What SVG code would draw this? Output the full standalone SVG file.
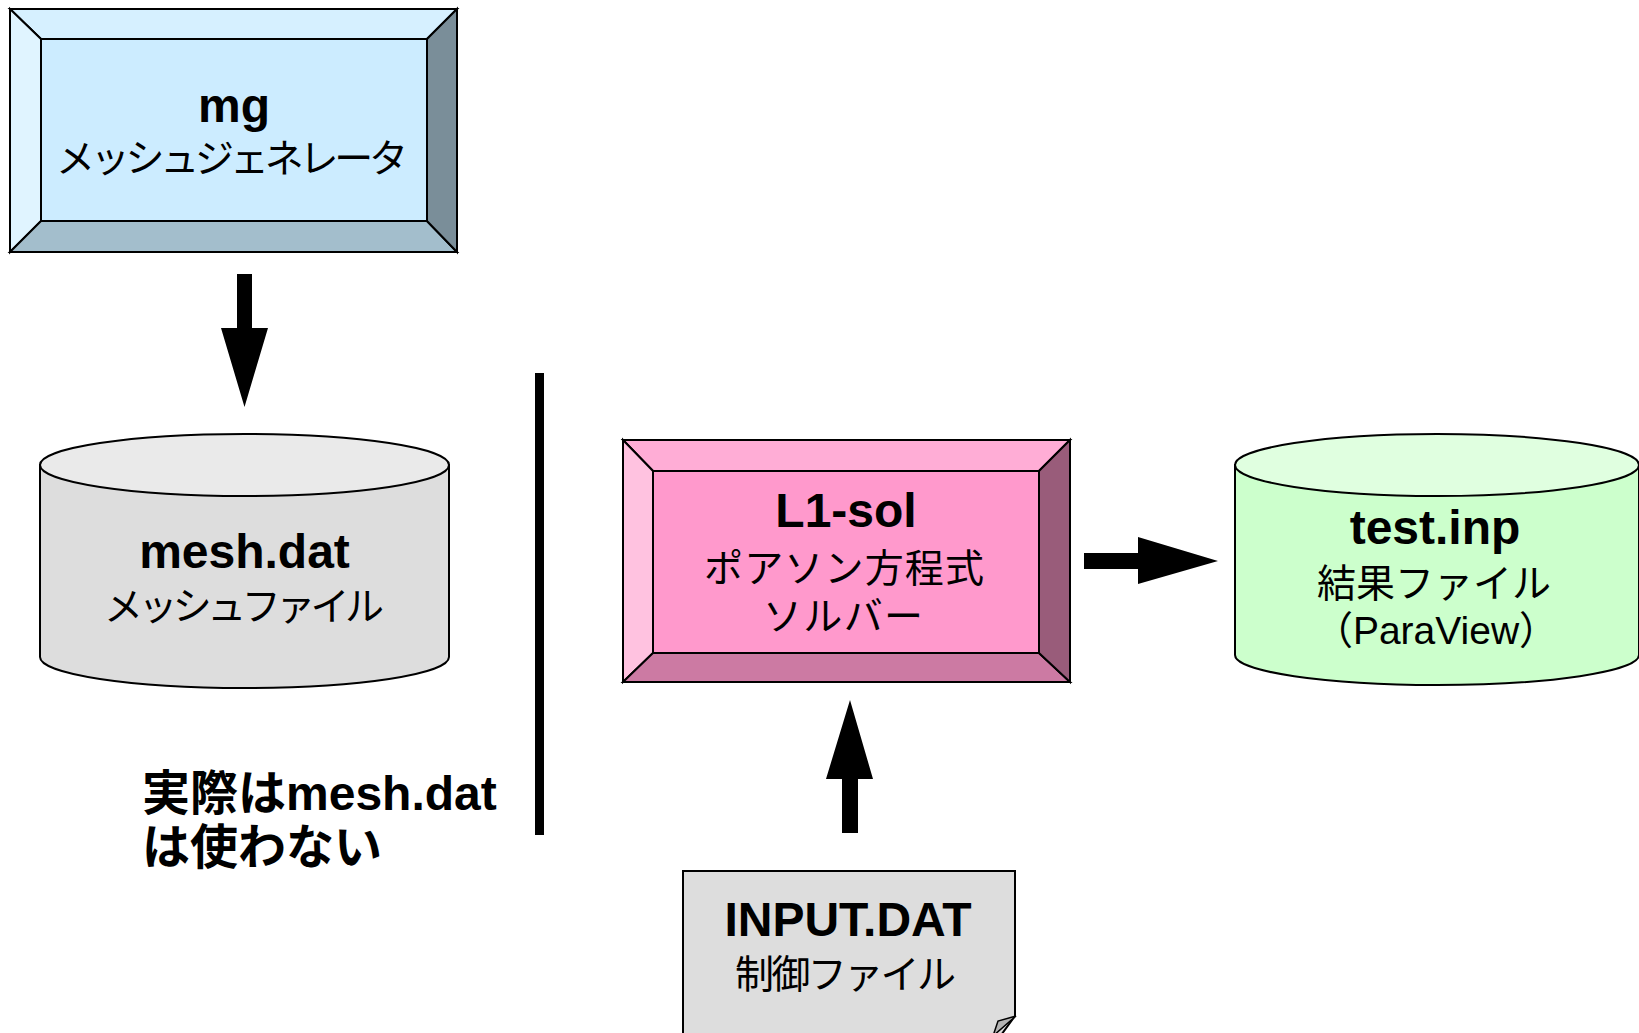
<svg xmlns="http://www.w3.org/2000/svg" width="1639" height="1033" viewBox="0 0 1639 1033">
<style>
.ln{stroke:#000;stroke-width:2;stroke-linejoin:miter}
.hd{font-family:"Liberation Sans","Noto Sans CJK JP",sans-serif;font-weight:bold;font-size:48px;fill:#000;text-anchor:middle}
.jp{font-family:"Noto Sans CJK JP","Liberation Sans",sans-serif;font-size:39px;font-weight:bold;fill:#000}
.j{font-family:"Noto Sans CJK JP","Liberation Sans",sans-serif;font-size:39px;font-weight:normal}
.note{font-family:"Liberation Sans","Noto Sans CJK JP",sans-serif;font-weight:bold;font-size:48px;fill:#000}
.arr{fill:#000;stroke:none}
</style>
<rect width="1639" height="1033" fill="#fff"/>

<g id="mg">
  <polygon class="ln" fill="#D6F0FF" points="10,9 457,9 427,39 41,39"/>
  <polygon class="ln" fill="#E0F4FF" points="10,9 41,39 41,221 10,252"/>
  <polygon class="ln" fill="#A3BECC" points="10,252 41,221 427,221 457,252"/>
  <polygon class="ln" fill="#7A8E99" points="457,9 457,252 427,221 427,39"/>
  <rect class="ln" fill="#CCECFF" x="41" y="39" width="386" height="182"/>
  <text class="hd" x="234" y="122">mg<tspan class="j" x="56" y="172" text-anchor="start" textLength="352" lengthAdjust="spacing">メッシュジェネレータ</tspan></text>
</g>

<g id="mesh">
  <path class="ln" fill="#DDDDDD" d="M40,465 L40,657 A204.5,31 0 0 0 449,657 L449,465 Z"/>
  <ellipse class="ln" fill="#EAEAEA" cx="244.5" cy="465" rx="204.5" ry="31"/>
  <text class="hd" x="244.5" y="568">mesh.dat<tspan class="j" x="104" y="620" text-anchor="start" textLength="280" lengthAdjust="spacing">メッシュファイル</tspan></text>
</g>

<g id="note">
  <text class="note" x="142" y="810">実際はmesh.dat<tspan x="142" y="864">は使わない</tspan></text>
</g>

<g id="divider">
  <rect x="535" y="373" width="9" height="462" fill="#000"/>
</g>

<g id="l1sol">
  <polygon class="ln" fill="#FFADD6" points="623,440 1070,440 1039,471 653,471"/>
  <polygon class="ln" fill="#FFC2E0" points="623,440 653,471 653,653 623,682"/>
  <polygon class="ln" fill="#CC7AA3" points="623,682 653,653 1039,653 1070,682"/>
  <polygon class="ln" fill="#995C7A" points="1070,440 1070,682 1039,653 1039,471"/>
  <rect class="ln" fill="#FF99CC" x="653" y="471" width="386" height="182"/>
  <text class="hd" x="846" y="527">L1-sol<tspan class="j" x="704" y="582" text-anchor="start" textLength="280" lengthAdjust="spacing">ポアソン方程式</tspan><tspan class="j" x="763" y="630" text-anchor="start" textLength="160" lengthAdjust="spacing">ソルバー</tspan></text>
</g>

<g id="testinp">
  <path class="ln" fill="#CCFFCC" d="M1235,465 L1235,655 A202,30 0 0 0 1639,655 L1639,465 Z"/>
  <ellipse class="ln" fill="#E0FFE0" cx="1437" cy="465" rx="202" ry="31"/>
  <text class="hd" x="1435" y="544">test.inp<tspan class="j" x="1317" y="597" text-anchor="start" textLength="234" lengthAdjust="spacing">結果ファイル</tspan><tspan class="j" x="1436" y="644">（<tspan font-family="Liberation Sans">ParaView</tspan>）</tspan></text>
</g>

<g id="inputdat">
  <polygon class="ln" fill="#DDDDDD" points="683,871 1015,871 1015,1016 996,1042 683,1042"/>
  <polygon fill="#B4B4B4" stroke="#000" stroke-width="1.5" points="1016,1016 998,1021 993,1036"/>
  <text class="hd" x="848" y="936">INPUT.DAT<tspan class="j" x="735" y="988" text-anchor="start" textLength="221" lengthAdjust="spacing">制御ファイル</tspan></text>
</g>

<g id="connectors">
  <polygon class="arr" points="237,274 252,274 252,328 268,328 244.5,407 221,328 237,328"/>
  <polygon class="arr" points="1084,553 1138,553 1138,537 1218,561 1138,584 1138,569 1084,569"/>
  <polygon class="arr" points="842,833 858,833 858,779 873,779 850,700 826,779 842,779"/>
</g>
</svg>
